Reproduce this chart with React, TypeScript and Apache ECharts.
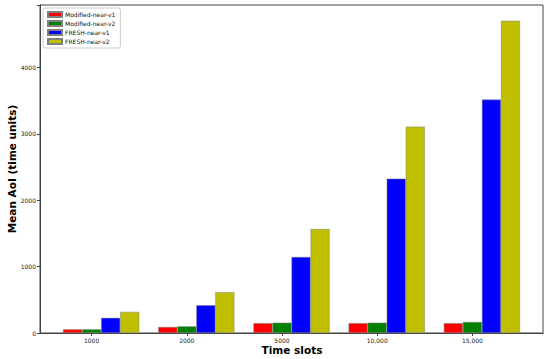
import React, { useEffect, useRef } from "react";
import * as echarts from "echarts";

const categories = ["1000", "2000", "5000", "10,000", "15,000"];
const seriesNames = ["Modified-near-v1", "Modified-near-v2", "FRESH-near-v1", "FRESH-near-v2"];
const modifiedV1 = [55, 90, 148, 148, 148];
const modifiedV2 = [55, 100, 155, 155, 166];
const freshV1 = [228, 418, 1145, 2325, 3515];
const freshV2 = [318, 615, 1566, 3108, 4702];
const yTicks = [0, 1000, 2000, 3000, 4000];
const colors = ["#ff0000", "#008000", "#0000ff", "#bfbf00"];
const xTitle = "Time slots";
const yTitle = "Mean AoI (time units)";

export default function App() {
  const ref = useRef<HTMLDivElement>(null);
  useEffect(() => {
    if (!ref.current) return;
    const chart = echarts.init(ref.current, undefined, { renderer: "svg" });
    const font = "DejaVu Sans";
    const values = [modifiedV1, modifiedV2, freshV1, freshV2];
    const barSeries: any[] = [
      {
        name: "_spacer",
        type: "bar",
        xAxisIndex: 1,
        yAxisIndex: 1,
        data: categories.map(() => 0),
        barGap: "0%",
        barCategoryGap: "0%",
        itemStyle: { color: "rgba(0,0,0,0)" },
        silent: true,
      },
      ...seriesNames.map((name, i) => ({
        name,
        type: "bar",
        xAxisIndex: 1,
        yAxisIndex: 1,
        data: values[i],
        barGap: "0%",
        barCategoryGap: "0%",
        itemStyle: { color: colors[i], borderColor: "#808080", borderWidth: 0.5 },
      })),
    ];
    chart.setOption({
      animation: false,
      backgroundColor: "#ffffff",
      textStyle: { fontFamily: font },
      grid: [
        { left: 40, right: 7, top: 5, bottom: 26, show: true, borderColor: "#444", borderWidth: 1, backgroundColor: "transparent", containLabel: false, outerBoundsMode: "none" },
        { left: 44, right: 30, top: 5, bottom: 26, containLabel: false, outerBoundsMode: "none" },
      ],
      legend: {
        data: seriesNames,
        orient: "vertical",
        left: 43,
        top: 8,
        icon: "rect",
        itemWidth: 14,
        itemHeight: 5,
        itemGap: 2,
        padding: [3, 5, 3, 4],
        borderColor: "#cccccc",
        borderWidth: 1,
        borderRadius: 2,
        backgroundColor: "#ffffff",
        textStyle: { fontSize: 6, color: "#111", fontFamily: font, padding: [0, 0, 0, -2] },
      },
      graphic: [
        {
          type: "text",
          x: 292,
          y: 350,
          style: { text: xTitle, font: `bold 10.5px "${font}"`, fill: "#000", align: "center", verticalAlign: "middle" },
        },
        {
          type: "text",
          x: 12,
          y: 169,
          rotation: Math.PI / 2,
          style: { text: yTitle, font: `bold 10.5px "${font}"`, fill: "#000", align: "center", verticalAlign: "middle" },
        },
      ],
      xAxis: [
        {
          gridIndex: 0,
          type: "value",
          min: 0,
          max: 1,
          axisLabel: { show: false },
          axisTick: { show: false },
          splitLine: { show: false },
          axisLine: { show: true, lineStyle: { color: "#444", width: 1 } },
        },
        {
          gridIndex: 1,
          type: "category",
          data: categories,
          axisLine: { show: false },
          axisTick: { show: true, alignWithLabel: true, length: 3, lineStyle: { color: "#444" } },
          axisLabel: { fontSize: 6, color: "#222", margin: 4, fontFamily: font },
          splitLine: { show: false },
        },
      ],
      yAxis: [
        {
          gridIndex: 0,
          type: "value",
          min: 0,
          max: 4940,
          interval: 1000,
          axisLine: { show: true, lineStyle: { color: "#444", width: 1 } },
          axisTick: { show: true, length: 3, lineStyle: { color: "#444" } },
          axisLabel: {
            fontSize: 6,
            color: "#222",
            margin: 4,
            fontFamily: font,
            formatter: (v: number) => (yTicks.includes(v) ? String(v) : ""),
          },
          splitLine: { show: false },
        },
        {
          gridIndex: 1,
          type: "value",
          min: 0,
          max: 4940,
          show: false,
          splitLine: { show: false },
        },
      ],
      series: barSeries,
    });
    return () => chart.dispose();
  }, []);
  return <div ref={ref} style={{ width: 550, height: 359, position: "absolute", left: 0, top: 0 }} />;
}
